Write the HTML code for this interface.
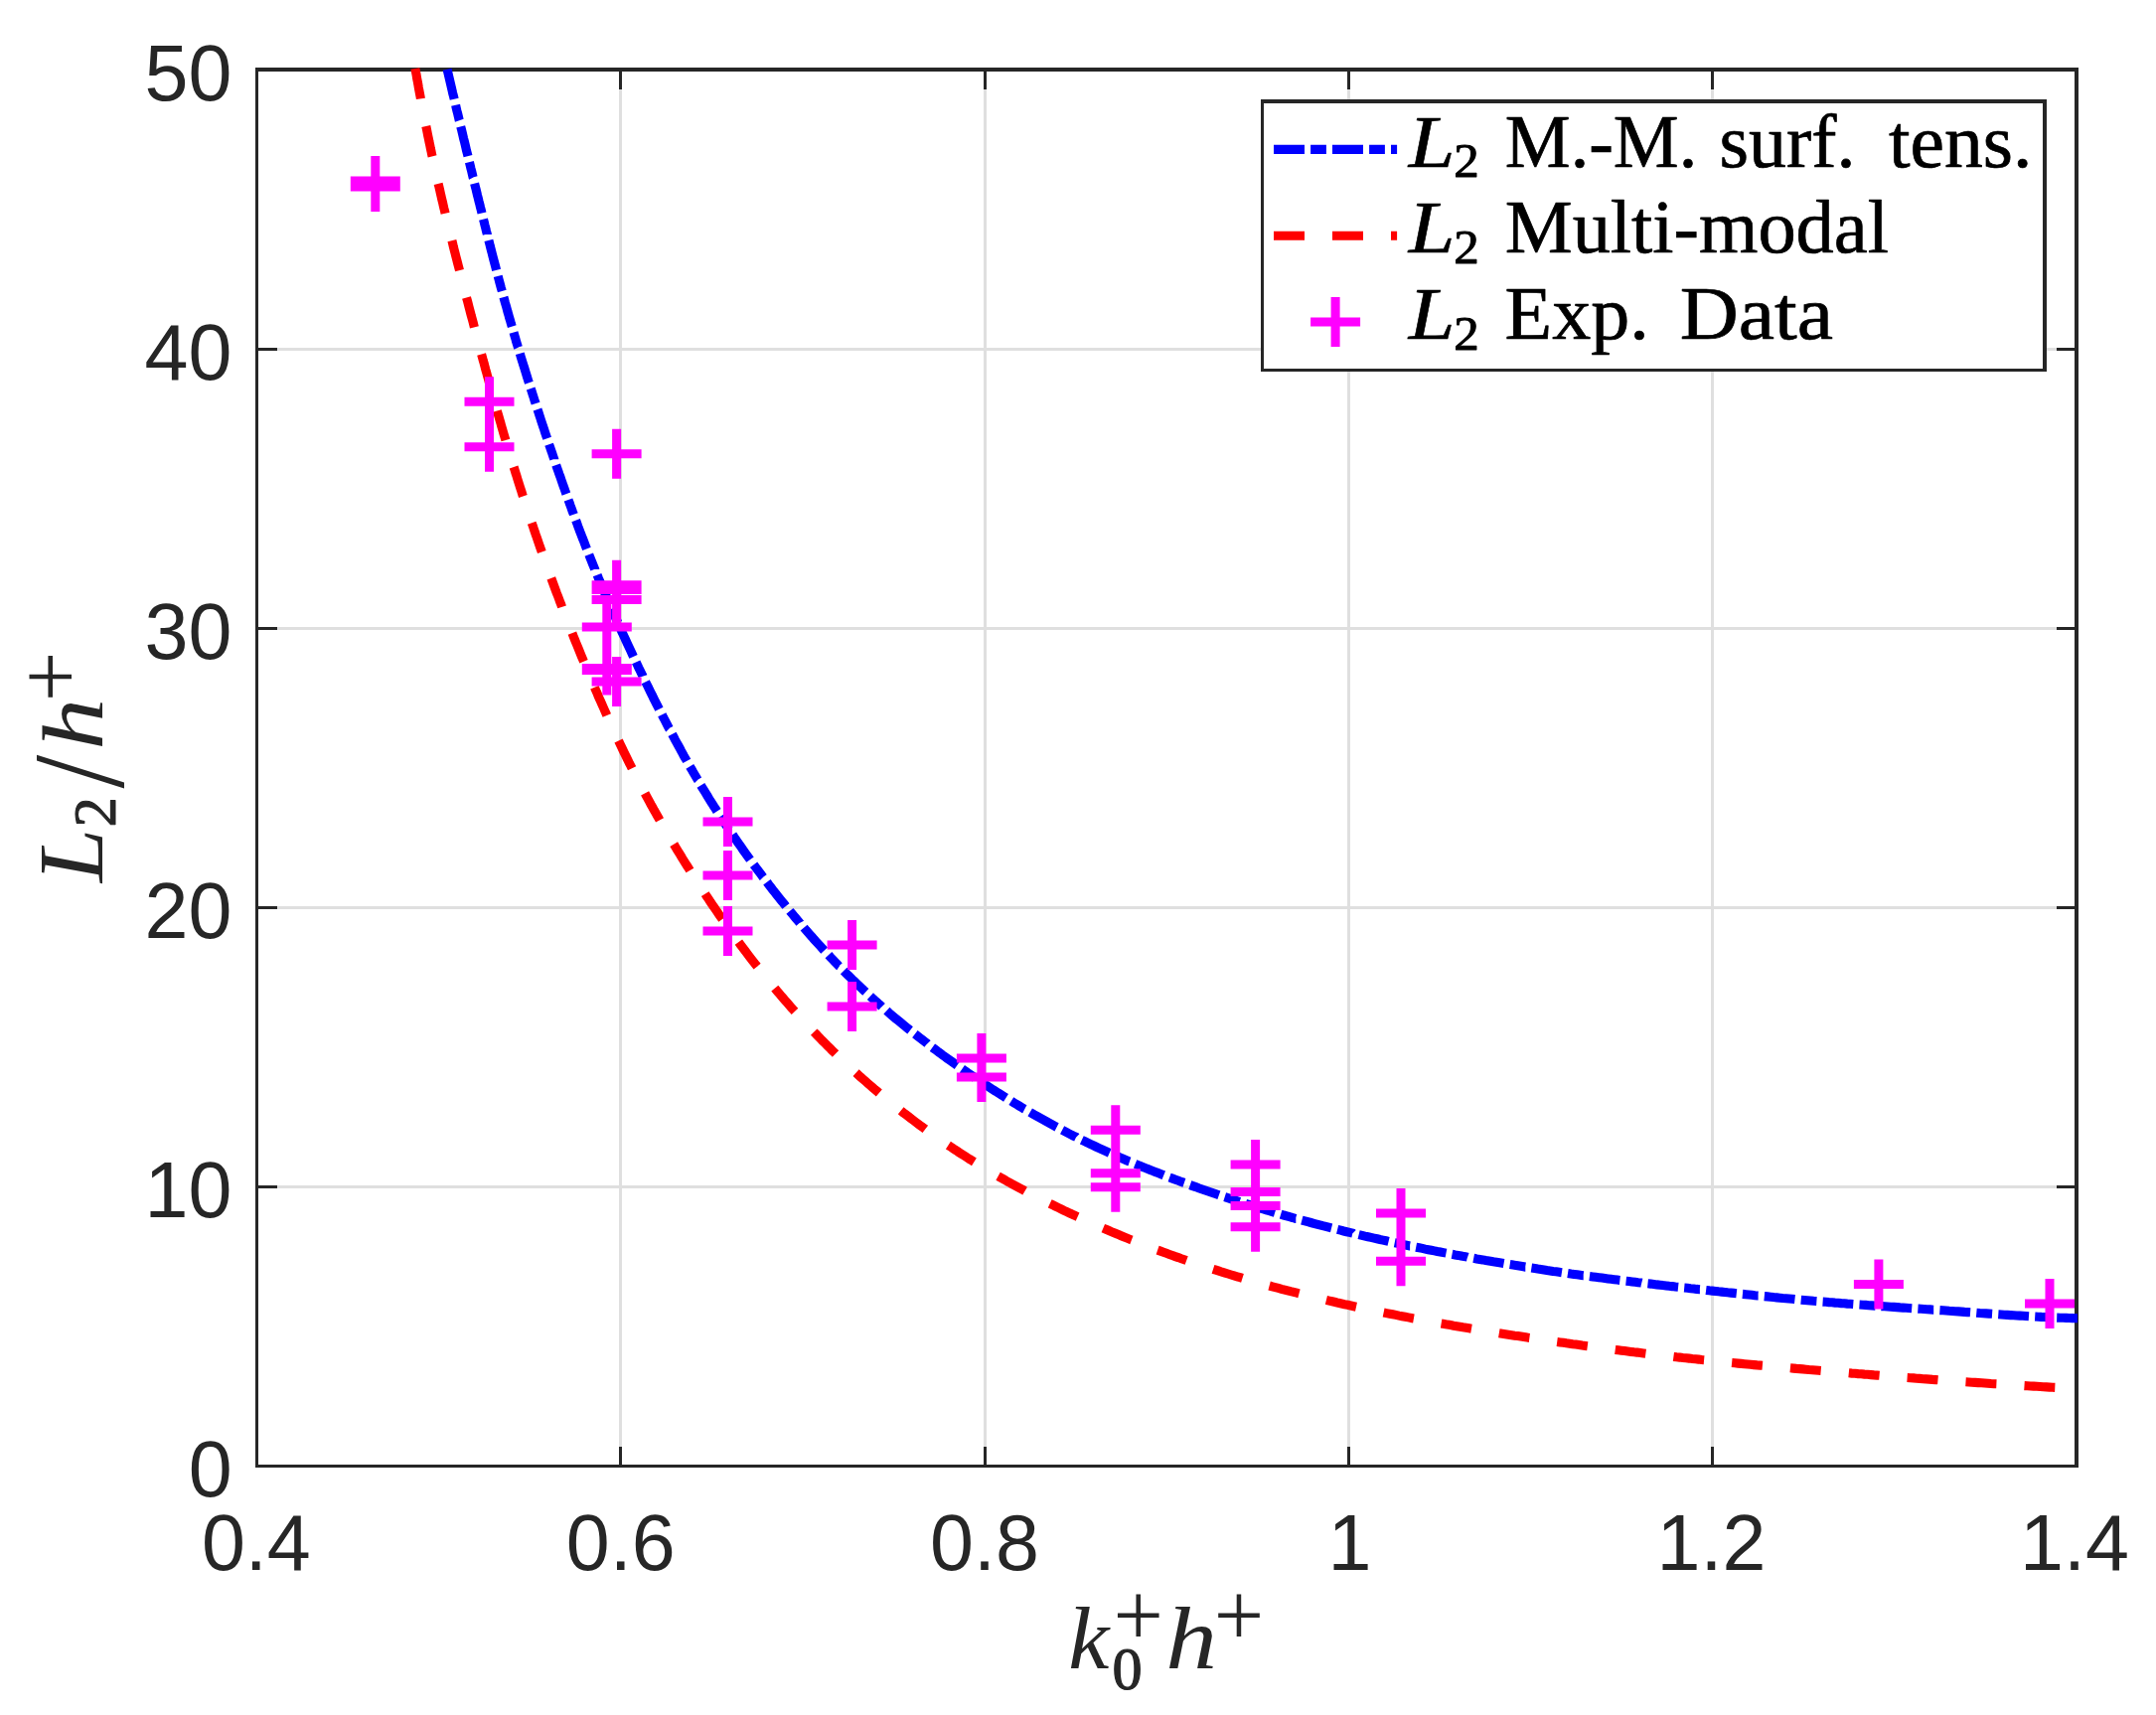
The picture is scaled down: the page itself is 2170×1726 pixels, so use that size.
<!DOCTYPE html>
<html><head><meta charset="utf-8"><title>L2/h+ vs k0+h+</title>
<style>html,body{margin:0;padding:0;background:#fff}svg{display:block}</style></head>
<body>
<svg width="2170" height="1726" viewBox="0 0 2170 1726">
<rect x="0" y="0" width="2170" height="1726" fill="#fff"/>
<defs><clipPath id="ax"><rect x="257" y="68" width="1834" height="1409"/></clipPath></defs>
<g fill="#dfdfdf" shape-rendering="crispEdges">
<rect x="623" y="72" width="3" height="1402"/>
<rect x="990" y="72" width="3" height="1402"/>
<rect x="1356" y="72" width="3" height="1402"/>
<rect x="1722" y="72" width="3" height="1402"/>
<rect x="260" y="1193" width="1828" height="3"/>
<rect x="260" y="912" width="1828" height="3"/>
<rect x="260" y="631" width="1828" height="3"/>
<rect x="260" y="350" width="1828" height="3"/>
</g>
<g fill="#262626" shape-rendering="crispEdges">
<rect x="257" y="68" width="1835" height="4"/>
<rect x="257" y="1474" width="1835" height="3"/>
<rect x="257" y="68" width="3" height="1409"/>
<rect x="2088" y="68" width="4" height="1409"/>
<rect x="623" y="72" width="3" height="18"/>
<rect x="623" y="1456" width="3" height="18"/>
<rect x="990" y="72" width="3" height="18"/>
<rect x="990" y="1456" width="3" height="18"/>
<rect x="1356" y="72" width="3" height="18"/>
<rect x="1356" y="1456" width="3" height="18"/>
<rect x="1722" y="72" width="3" height="18"/>
<rect x="1722" y="1456" width="3" height="18"/>
<rect x="260" y="1193" width="19" height="3"/>
<rect x="2070" y="1193" width="18" height="3"/>
<rect x="260" y="912" width="19" height="3"/>
<rect x="2070" y="912" width="18" height="3"/>
<rect x="260" y="631" width="19" height="3"/>
<rect x="2070" y="631" width="18" height="3"/>
<rect x="260" y="350" width="19" height="3"/>
<rect x="2070" y="350" width="18" height="3"/>
</g>
<path d="M440.7 30.1 L441.5 33.5 L442.2 36.5 L442.9 39.4 L443.6 42.3 M445.0 48.4 L445.7 51.5 L446.4 54.5 L447.2 57.9 L447.9 60.8 L448.6 63.7 L448.6 63.8 M450.1 69.8 L450.8 72.8 L451.5 75.8 L452.2 78.8 L452.9 81.8 L453.6 84.8 L454.3 87.8 L455.0 90.8 L455.7 93.8 L456.5 96.9 L457.2 99.8 M458.6 105.8 L459.3 108.9 L460.0 111.9 L460.8 114.9 L461.5 117.9 L462.2 120.9 L462.3 121.2 M463.7 127.3 L464.5 130.3 L465.2 133.3 L465.9 136.3 L466.6 139.3 L467.4 142.3 L468.1 145.3 L468.8 148.3 L469.5 151.4 L470.3 154.4 L471.0 157.2 M472.4 163.2 L473.2 166.4 L473.9 169.4 L474.7 172.4 L475.4 175.4 L476.1 178.4 L476.2 178.6 M477.6 184.6 L478.4 187.8 L479.2 190.9 L479.9 193.9 L480.6 196.9 L481.4 199.9 L482.1 202.9 L482.9 205.9 L483.6 208.9 L484.4 211.9 L485.0 214.5 M486.5 220.6 L487.3 223.6 L488.0 226.6 L488.8 229.6 L489.5 232.6 L490.3 235.6 L490.3 235.9 M491.9 241.9 L492.7 245.0 L493.4 248.0 L494.2 251.0 L495.0 254.0 L495.7 257.0 L496.5 260.0 L497.3 263.0 L498.1 266.0 L498.9 269.0 L499.6 271.8 M501.2 277.8 L502.0 281.0 L502.8 284.0 L503.6 287.0 L504.4 290.0 L505.3 293.0 L505.3 293.0 M506.9 299.0 L507.7 302.0 L508.5 305.0 L509.4 307.9 L510.2 310.9 L511.0 313.9 L511.9 316.9 L512.7 319.9 L513.6 322.8 L514.4 325.8 L515.3 328.7 M517.0 334.6 L517.9 337.7 L518.8 340.7 L519.6 343.7 L520.5 346.6 L521.4 349.6 L521.5 349.8 M523.3 355.8 L524.2 358.9 L525.1 361.8 L526.0 364.8 L526.9 367.7 L527.9 370.7 L528.8 373.7 L529.7 376.6 L530.6 379.6 L531.5 382.5 L532.4 385.2 M534.2 391.1 L535.2 394.0 L536.1 396.9 L537.1 399.9 L538.0 402.8 L539.0 405.8 L539.1 406.1 M541.0 412.1 L542.0 415.0 L542.9 417.9 L543.9 420.9 L544.8 423.8 L545.8 426.7 L546.8 429.7 L547.8 432.6 L548.7 435.6 L549.7 438.5 L550.7 441.3 M552.6 447.2 L553.7 450.3 L554.7 453.2 L555.7 456.1 L556.7 459.1 L557.7 462.0 L557.7 462.2 M559.7 468.1 L560.8 471.2 L561.8 474.1 L562.8 477.0 L563.9 479.9 L564.9 482.9 L565.9 485.8 L566.9 488.7 L568.0 491.6 L569.0 494.6 L569.9 497.1 M572.0 503.0 L573.1 505.9 L574.1 508.8 L575.2 511.7 L576.2 514.6 L577.3 517.5 L577.4 517.8 M579.6 523.7 L580.7 526.6 L581.7 529.5 L582.8 532.4 L583.9 535.3 L585.0 538.2 L586.1 541.1 L587.3 544.0 L588.4 546.9 L589.5 549.8 L590.5 552.4 M592.8 558.2 L594.0 561.3 L595.2 564.2 L596.3 567.0 L597.5 569.9 L598.7 572.8 L598.7 572.9 M601.1 578.6 L602.3 581.7 L603.5 584.6 L604.7 587.4 L605.9 590.3 L607.1 593.1 L608.3 596.0 L609.6 598.8 L610.8 601.6 L612.0 604.5 L613.1 607.0 M615.6 612.7 L616.8 615.5 L618.1 618.3 L619.3 621.1 L620.6 623.9 L621.8 626.8 L622.0 627.1 M624.6 632.8 L625.8 635.6 L627.1 638.4 L628.4 641.2 L629.7 644.0 L631.0 646.8 L632.3 649.6 L633.6 652.4 L634.9 655.2 L636.2 658.0 L637.5 660.8 M640.2 666.4 L641.5 669.2 L642.8 672.0 L644.2 674.8 L645.5 677.5 L646.9 680.3 L647.0 680.6 M649.7 686.2 L651.1 689.0 L652.5 691.8 L653.8 694.6 L655.2 697.3 L656.6 700.1 L657.9 702.9 L659.3 705.6 L660.7 708.4 L662.1 711.1 L663.4 713.8 M666.3 719.3 L667.7 722.2 L669.2 724.9 L670.6 727.6 L672.0 730.4 L673.4 733.1 L673.6 733.3 M676.5 738.8 L678.0 741.7 L679.4 744.4 L680.9 747.1 L682.4 749.8 L683.9 752.5 L685.3 755.2 L686.8 757.9 L688.3 760.7 L689.9 763.4 L691.3 765.9 M694.3 771.3 L696.0 774.1 L697.5 776.8 L699.1 779.5 L700.6 782.1 L702.2 784.8 L702.3 784.9 M705.4 790.3 L707.1 793.1 L708.7 795.7 L710.4 798.4 L712.0 801.0 L713.6 803.7 L715.2 806.3 L716.9 808.9 L718.5 811.5 L720.2 814.1 L721.7 816.5 M725.0 821.7 L726.7 824.2 L728.4 826.8 L730.1 829.4 L731.8 832.0 L733.6 834.5 L733.8 834.8 M737.3 840.0 L739.0 842.6 L740.8 845.1 L742.5 847.7 L744.3 850.2 L746.1 852.7 L747.9 855.3 L749.7 857.8 L751.5 860.3 L753.3 862.8 L755.0 865.2 M758.6 870.2 L760.6 872.9 L762.4 875.3 L764.3 877.8 L766.2 880.3 L768.0 882.8 L768.1 882.9 M771.9 887.8 L773.9 890.5 L775.8 892.9 L777.7 895.4 L779.6 897.8 L781.6 900.3 L783.5 902.7 L785.4 905.1 L787.4 907.5 L789.3 909.9 L791.0 912.0 M794.9 916.8 L796.9 919.2 L798.9 921.6 L800.9 924.0 L802.9 926.4 L804.9 928.7 L805.0 928.9 M809.1 933.6 L811.2 936.1 L813.3 938.4 L815.3 940.8 L817.4 943.1 L819.4 945.4 L821.5 947.7 L823.6 950.0 L825.7 952.3 L827.8 954.6 L829.6 956.6 M833.9 961.1 L835.9 963.3 L838.1 965.6 L840.2 967.8 L842.4 970.1 L844.5 972.3 L844.8 972.5 M849.2 977.0 L851.3 979.2 L853.5 981.4 L855.7 983.5 L857.9 985.7 L860.2 987.9 L862.4 990.0 L864.6 992.1 L866.9 994.3 L869.1 996.4 L871.3 998.4 M875.9 1002.6 L878.3 1004.8 L880.6 1006.9 L882.9 1008.9 L885.2 1011.0 L887.5 1013.0 L887.6 1013.1 M892.4 1017.2 L894.8 1019.4 L897.2 1021.4 L899.6 1023.4 L901.9 1025.4 L904.3 1027.3 L906.7 1029.3 L909.1 1031.3 L911.5 1033.2 L913.9 1035.2 L916.1 1036.9 M920.9 1040.7 L923.4 1042.6 L925.8 1044.5 L928.3 1046.4 L930.7 1048.3 L933.2 1050.2 L933.4 1050.4 M938.4 1054.2 L940.9 1056.0 L943.4 1057.9 L945.9 1059.7 L948.4 1061.6 L950.9 1063.4 L953.4 1065.2 L956.0 1067.0 L958.5 1068.8 L961.0 1070.6 L963.3 1072.2 M968.4 1075.8 L971.2 1077.7 L973.7 1079.5 L976.3 1081.2 L978.9 1083.0 L981.4 1084.7 L981.4 1084.7 M986.6 1088.2 L989.2 1089.9 L991.7 1091.6 L994.3 1093.3 L996.9 1095.0 L999.5 1096.7 L1002.1 1098.3 L1004.7 1100.0 L1007.4 1101.6 L1010.0 1103.3 L1012.5 1104.9 M1017.8 1108.1 L1020.5 1109.8 L1023.2 1111.4 L1025.8 1113.0 L1028.5 1114.6 L1031.1 1116.2 L1031.3 1116.3 M1036.7 1119.4 L1039.5 1121.0 L1042.2 1122.6 L1044.9 1124.1 L1047.6 1125.6 L1050.3 1127.1 L1053.0 1128.6 L1055.7 1130.1 L1058.4 1131.6 L1061.1 1133.1 L1063.6 1134.4 M1069.1 1137.3 L1072.0 1138.8 L1074.8 1140.3 L1077.6 1141.7 L1080.3 1143.1 L1083.1 1144.4 L1083.2 1144.5 M1088.8 1147.3 L1091.8 1148.7 L1094.6 1150.0 L1097.3 1151.4 L1100.1 1152.7 L1102.9 1154.0 L1105.8 1155.3 L1108.6 1156.6 L1111.4 1157.9 L1114.2 1159.2 L1116.7 1160.3 M1122.4 1162.8 L1125.2 1164.0 L1128.0 1165.3 L1130.9 1166.5 L1133.7 1167.7 L1136.6 1168.9 L1136.9 1169.0 M1142.6 1171.4 L1145.6 1172.6 L1148.4 1173.8 L1151.3 1174.9 L1154.2 1176.1 L1157.1 1177.2 L1160.0 1178.4 L1162.8 1179.5 L1165.7 1180.6 L1168.6 1181.7 L1171.3 1182.8 M1177.1 1185.0 L1180.2 1186.1 L1183.1 1187.2 L1186.1 1188.3 L1189.0 1189.4 L1191.9 1190.4 L1191.9 1190.4 M1197.8 1192.6 L1200.6 1193.6 L1203.6 1194.6 L1206.5 1195.7 L1209.4 1196.7 L1212.3 1197.7 L1215.3 1198.7 L1218.2 1199.7 L1221.1 1200.7 L1224.1 1201.7 L1226.9 1202.7 M1232.7 1204.6 L1235.8 1205.6 L1238.8 1206.6 L1241.7 1207.6 L1244.7 1208.5 L1247.6 1209.5 L1247.8 1209.5 M1253.7 1211.4 L1256.9 1212.4 L1259.8 1213.3 L1262.8 1214.2 L1265.7 1215.2 L1268.7 1216.1 L1271.7 1217.0 L1274.6 1217.9 L1277.6 1218.7 L1280.6 1219.6 L1283.2 1220.4 M1289.1 1222.1 L1292.1 1223.0 L1295.1 1223.8 L1298.1 1224.7 L1301.0 1225.5 L1304.0 1226.4 L1304.3 1226.4 M1310.3 1228.1 L1313.4 1228.9 L1316.4 1229.7 L1319.4 1230.5 L1322.3 1231.3 L1325.3 1232.1 L1328.3 1232.9 L1331.3 1233.7 L1334.3 1234.4 L1337.3 1235.2 L1340.1 1235.9 M1346.1 1237.4 L1349.4 1238.2 L1352.4 1239.0 L1355.4 1239.7 L1358.4 1240.4 L1361.4 1241.1 L1361.5 1241.2 M1367.6 1242.6 L1370.9 1243.4 L1373.9 1244.1 L1376.9 1244.7 L1379.9 1245.4 L1383.0 1246.1 L1386.0 1246.8 L1389.0 1247.5 L1392.0 1248.1 L1395.1 1248.8 L1397.6 1249.4 M1403.7 1250.7 L1406.8 1251.3 L1409.8 1252.0 L1412.9 1252.6 L1415.9 1253.3 L1418.9 1253.9 L1419.1 1253.9 M1425.2 1255.2 L1428.4 1255.8 L1431.5 1256.4 L1434.5 1257.1 L1437.6 1257.7 L1440.6 1258.3 L1443.7 1258.9 L1446.7 1259.5 L1449.7 1260.0 L1452.8 1260.6 L1455.5 1261.1 M1461.5 1262.3 L1464.6 1262.9 L1467.6 1263.4 L1470.7 1264.0 L1473.7 1264.6 L1476.8 1265.1 L1477.1 1265.2 M1483.2 1266.3 L1486.3 1266.9 L1489.4 1267.4 L1492.4 1267.9 L1495.5 1268.5 L1498.5 1269.0 L1501.6 1269.5 L1504.6 1270.1 L1507.7 1270.6 L1510.7 1271.1 L1513.6 1271.6 M1519.7 1272.6 L1523.0 1273.1 L1526.0 1273.6 L1529.1 1274.1 L1532.2 1274.6 L1535.2 1275.1 L1535.3 1275.1 M1541.4 1276.1 L1544.8 1276.6 L1547.8 1277.1 L1550.9 1277.5 L1554.0 1278.0 L1557.0 1278.5 L1560.1 1278.9 L1563.2 1279.4 L1566.2 1279.8 L1569.3 1280.3 L1571.9 1280.7 M1578.0 1281.5 L1581.2 1282.0 L1584.3 1282.4 L1587.3 1282.8 L1590.4 1283.2 L1593.5 1283.7 L1593.7 1283.7 M1599.9 1284.5 L1603.1 1284.9 L1606.1 1285.3 L1609.2 1285.7 L1612.3 1286.1 L1615.4 1286.5 L1618.4 1286.9 L1621.5 1287.3 L1624.6 1287.7 L1627.7 1288.1 L1630.4 1288.4 M1636.6 1289.2 L1639.6 1289.5 L1642.7 1289.9 L1645.8 1290.3 L1648.8 1290.7 L1651.9 1291.0 L1652.3 1291.1 M1658.5 1291.8 L1661.5 1292.1 L1664.6 1292.5 L1667.7 1292.9 L1670.8 1293.2 L1673.8 1293.6 L1676.9 1293.9 L1680.0 1294.3 L1683.1 1294.6 L1686.2 1295.0 L1689.1 1295.3 M1695.2 1296.0 L1698.5 1296.3 L1701.6 1296.7 L1704.7 1297.0 L1707.7 1297.4 L1710.8 1297.7 L1710.9 1297.7 M1717.1 1298.4 L1720.4 1298.8 L1723.5 1299.1 L1726.6 1299.4 L1729.7 1299.8 L1732.8 1300.1 L1735.9 1300.4 L1738.9 1300.8 L1742.0 1301.1 L1745.1 1301.4 L1747.8 1301.7 M1753.9 1302.4 L1757.1 1302.7 L1760.1 1303.0 L1763.2 1303.3 L1766.3 1303.7 L1769.4 1304.0 L1769.6 1304.0 M1775.8 1304.6 L1779.0 1304.9 L1782.1 1305.2 L1785.2 1305.6 L1788.3 1305.9 L1791.4 1306.2 L1794.4 1306.5 L1797.5 1306.7 L1800.6 1307.0 L1803.7 1307.3 L1806.5 1307.6 M1812.7 1308.2 L1816.1 1308.5 L1819.1 1308.7 L1822.2 1309.0 L1825.3 1309.3 L1828.4 1309.5 L1828.4 1309.5 M1834.6 1310.1 L1837.7 1310.3 L1840.8 1310.6 L1843.9 1310.8 L1846.9 1311.1 L1850.0 1311.3 L1853.1 1311.6 L1856.2 1311.8 L1859.3 1312.1 L1862.4 1312.3 L1865.3 1312.5 M1871.5 1313.0 L1874.8 1313.2 L1877.9 1313.4 L1880.9 1313.7 L1884.0 1313.9 L1887.1 1314.1 L1887.3 1314.1 M1893.5 1314.6 L1896.8 1314.8 L1899.9 1315.0 L1903.0 1315.2 L1906.1 1315.4 L1909.2 1315.6 L1912.3 1315.9 L1915.4 1316.1 L1918.5 1316.3 L1921.5 1316.5 L1924.2 1316.7 M1930.4 1317.1 L1933.5 1317.3 L1936.6 1317.5 L1939.7 1317.7 L1942.8 1317.9 L1945.9 1318.2 L1946.2 1318.2 M1952.4 1318.6 L1955.6 1318.8 L1958.7 1319.0 L1961.8 1319.3 L1964.9 1319.5 L1967.9 1319.7 L1971.0 1319.9 L1974.1 1320.1 L1977.2 1320.4 L1980.3 1320.6 L1983.1 1320.8 M1989.3 1321.2 L1992.7 1321.5 L1995.8 1321.7 L1998.9 1321.9 L2002.0 1322.1 L2005.1 1322.3 L2005.1 1322.3 M2011.3 1322.8 L2014.3 1323.0 L2017.4 1323.2 L2020.5 1323.4 L2023.6 1323.6 L2026.7 1323.8 L2029.8 1324.0 L2032.9 1324.1 L2036.0 1324.3 L2039.1 1324.5 L2042.0 1324.7 M2048.2 1325.0 L2051.5 1325.2 L2054.6 1325.4 L2057.7 1325.5 L2060.8 1325.6 L2063.8 1325.8 L2064.0 1325.8 M2070.2 1326.1 L2073.5 1326.2 L2076.6 1326.3 L2079.7 1326.4 L2082.8 1326.5 L2085.9 1326.6 L2089.0 1326.7 L2092.2 1326.8 L2095.2 1326.8 L2098.2 1326.9 L2101.0 1327.0 M2107.2 1327.2 L2110.7 1327.2 L2113.7 1327.3 L2116.7 1327.4 L2119.7 1327.5 L2122.7 1327.6 L2123.0 1327.6 M2129.3 1327.7 L2130.2 1327.7" fill="none" stroke="#0000ff" stroke-width="9.1" clip-path="url(#ax)"/>
<path d="M411.1 30.1 L411.7 33.6 L412.3 36.5 L412.8 39.5 L413.1 41.2 M417.9 69.0 L418.5 72.3 L419.1 75.4 L419.6 78.6 L420.2 81.7 L420.8 84.8 L421.3 88.0 L421.9 91.1 L422.5 94.3 L423.1 97.4 L423.4 99.4 M428.8 127.0 L429.5 130.3 L430.1 133.4 L430.7 136.5 L431.4 139.7 L432.0 142.8 L432.7 145.9 L433.3 149.0 L434.0 152.2 L434.6 155.3 L435.1 157.3 M441.1 184.8 L441.9 188.0 L442.6 191.1 L443.3 194.2 L444.0 197.3 L444.7 200.4 L445.5 203.6 L446.2 206.7 L446.9 209.8 L447.7 212.9 L448.1 214.8 M454.9 242.2 L455.7 245.4 L456.4 248.5 L457.2 251.6 L458.0 254.7 L458.8 257.8 L459.6 260.9 L460.4 264.0 L461.2 267.1 L462.0 270.2 L462.5 272.1 M469.5 299.4 L470.4 302.6 L471.2 305.7 L472.0 308.8 L472.8 311.9 L473.6 315.0 L474.4 318.1 L475.3 321.1 L476.1 324.2 L476.9 327.3 L477.4 329.3 M484.6 356.5 L485.5 359.7 L486.3 362.8 L487.2 365.8 L488.0 368.9 L488.8 372.0 L489.7 375.1 L490.5 378.1 L491.4 381.2 L492.2 384.3 L492.7 386.3 M500.3 413.4 L501.2 416.5 L502.1 419.6 L503.0 422.7 L503.9 425.7 L504.7 428.8 L505.6 431.8 L506.5 434.9 L507.4 438.0 L508.3 441.0 L508.9 443.1 M517.1 470.0 L518.1 473.1 L519.0 476.1 L520.0 479.2 L520.9 482.2 L521.9 485.3 L522.8 488.3 L523.8 491.4 L524.8 494.4 L525.7 497.4 L526.4 499.5 M535.2 526.2 L536.3 529.2 L537.3 532.3 L538.3 535.3 L539.3 538.3 L540.4 541.3 L541.4 544.3 L542.5 547.4 L543.5 550.4 L544.6 553.4 L545.3 555.4 M554.8 581.9 L555.9 584.9 L557.0 587.9 L558.1 590.9 L559.2 593.9 L560.3 596.9 L561.5 599.8 L562.6 602.8 L563.7 605.8 L564.9 608.8 L565.6 610.9 M575.9 637.1 L577.0 640.0 L578.2 643.0 L579.4 645.9 L580.6 648.9 L581.8 651.8 L583.0 654.8 L584.2 657.7 L585.4 660.7 L586.6 663.6 L587.5 665.7 M598.4 691.7 L599.6 694.5 L600.9 697.4 L602.1 700.4 L603.4 703.3 L604.7 706.2 L606.0 709.1 L607.3 712.0 L608.6 715.0 L609.9 717.9 L610.8 720.0 M622.6 745.5 L623.9 748.3 L625.3 751.2 L626.6 754.0 L628.0 756.9 L629.4 759.8 L630.8 762.6 L632.2 765.5 L633.6 768.4 L635.1 771.2 L636.1 773.3 M649.1 798.3 L650.7 801.3 L652.2 804.1 L653.7 806.9 L655.2 809.7 L656.8 812.5 L658.3 815.3 L659.9 818.1 L661.4 820.8 L663.0 823.6 L664.0 825.4 M678.2 849.7 L679.9 852.5 L681.6 855.3 L683.2 858.0 L684.9 860.7 L686.5 863.4 L688.2 866.1 L689.9 868.8 L691.6 871.5 L693.3 874.2 L694.4 876.0 M709.7 899.6 L711.5 902.4 L713.3 905.0 L715.0 907.7 L716.8 910.3 L718.6 912.9 L720.4 915.6 L722.2 918.2 L724.0 920.8 L725.8 923.5 L727.0 925.2 M743.4 948.1 L745.3 950.7 L747.2 953.2 L749.1 955.8 L751.0 958.3 L753.0 960.9 L754.9 963.4 L756.8 965.9 L758.8 968.5 L760.7 971.0 L762.1 972.7 M779.8 994.6 L781.8 997.0 L783.9 999.4 L785.9 1001.8 L788.0 1004.3 L790.1 1006.7 L792.2 1009.1 L794.3 1011.5 L796.4 1013.9 L798.5 1016.3 L800.0 1017.9 M819.2 1038.6 L821.4 1040.8 L823.6 1043.1 L825.8 1045.4 L828.1 1047.7 L830.3 1049.9 L832.6 1052.2 L834.9 1054.4 L837.1 1056.7 L839.4 1058.9 L841.0 1060.5 M861.6 1079.7 L863.9 1081.8 L866.3 1084.0 L868.7 1086.1 L871.1 1088.2 L873.5 1090.3 L875.9 1092.4 L878.3 1094.5 L880.7 1096.6 L883.2 1098.6 L884.8 1100.0 M906.7 1117.8 L909.2 1119.8 L911.7 1121.7 L914.3 1123.7 L916.8 1125.6 L919.3 1127.5 L921.9 1129.5 L924.4 1131.4 L927.0 1133.3 L929.6 1135.1 L931.3 1136.4 M954.4 1152.6 L957.0 1154.3 L959.7 1156.1 L962.4 1157.8 L965.0 1159.6 L967.7 1161.3 L970.4 1163.0 L973.1 1164.8 L975.8 1166.5 L978.5 1168.1 L980.4 1169.3 M1004.6 1183.7 L1007.3 1185.2 L1010.1 1186.8 L1012.8 1188.4 L1015.6 1189.9 L1018.4 1191.5 L1021.2 1193.0 L1024.0 1194.5 L1026.8 1196.0 L1029.7 1197.5 L1031.6 1198.6 M1056.7 1211.4 L1059.5 1212.7 L1062.4 1214.1 L1065.3 1215.5 L1068.1 1216.9 L1071.0 1218.3 L1073.9 1219.6 L1076.8 1221.0 L1079.7 1222.3 L1082.6 1223.7 L1084.6 1224.6 M1110.3 1236.1 L1113.2 1237.3 L1116.1 1238.5 L1119.1 1239.8 L1122.0 1241.0 L1125.0 1242.2 L1127.9 1243.5 L1130.9 1244.7 L1133.8 1245.9 L1136.8 1247.1 L1138.9 1247.9 M1165.1 1258.1 L1168.0 1259.1 L1171.0 1260.2 L1174.0 1261.3 L1177.0 1262.4 L1180.0 1263.5 L1183.0 1264.6 L1186.0 1265.6 L1189.0 1266.7 L1192.0 1267.7 L1194.2 1268.5 M1221.0 1277.3 L1223.8 1278.2 L1226.9 1279.2 L1229.9 1280.2 L1233.0 1281.1 L1236.0 1282.0 L1239.1 1283.0 L1242.1 1283.9 L1245.2 1284.8 L1248.3 1285.7 L1250.5 1286.4 M1277.6 1294.0 L1280.5 1294.8 L1283.6 1295.6 L1286.7 1296.4 L1289.8 1297.3 L1292.9 1298.1 L1295.9 1298.9 L1299.0 1299.7 L1302.1 1300.4 L1305.2 1301.2 L1307.5 1301.8 M1334.9 1308.4 L1337.8 1309.1 L1340.9 1309.8 L1344.0 1310.5 L1347.1 1311.3 L1350.2 1312.0 L1353.4 1312.7 L1356.5 1313.3 L1359.6 1314.0 L1362.7 1314.7 L1365.0 1315.2 M1392.6 1321.0 L1395.5 1321.6 L1398.7 1322.2 L1401.8 1322.8 L1404.9 1323.4 L1408.1 1324.1 L1411.2 1324.7 L1414.3 1325.3 L1417.5 1325.9 L1420.6 1326.5 L1422.9 1326.9 M1450.6 1332.0 L1453.6 1332.5 L1456.7 1333.1 L1459.9 1333.6 L1463.0 1334.2 L1466.1 1334.7 L1469.3 1335.2 L1472.4 1335.8 L1475.6 1336.3 L1478.7 1336.8 L1481.0 1337.2 M1508.8 1341.7 L1511.8 1342.2 L1515.0 1342.7 L1518.1 1343.2 L1521.3 1343.7 L1524.4 1344.2 L1527.6 1344.6 L1530.7 1345.1 L1533.9 1345.6 L1537.1 1346.1 L1539.4 1346.4 M1567.2 1350.5 L1570.2 1350.9 L1573.4 1351.3 L1576.6 1351.8 L1579.7 1352.2 L1582.9 1352.7 L1586.0 1353.1 L1589.2 1353.5 L1592.4 1354.0 L1595.5 1354.4 L1597.8 1354.7 M1625.7 1358.4 L1628.8 1358.8 L1631.9 1359.2 L1635.1 1359.6 L1638.3 1360.0 L1641.4 1360.4 L1644.6 1360.8 L1647.8 1361.1 L1650.9 1361.5 L1654.1 1361.9 L1656.4 1362.2 M1684.4 1365.4 L1687.4 1365.8 L1690.6 1366.1 L1693.8 1366.5 L1696.9 1366.8 L1700.1 1367.1 L1703.3 1367.5 L1706.5 1367.8 L1709.6 1368.1 L1712.8 1368.5 L1715.1 1368.7 M1743.1 1371.5 L1746.2 1371.8 L1749.3 1372.1 L1752.5 1372.4 L1755.7 1372.7 L1758.9 1373.0 L1762.0 1373.3 L1765.2 1373.6 L1768.4 1373.9 L1771.6 1374.1 L1773.9 1374.3 M1801.9 1376.8 L1805.0 1377.1 L1808.1 1377.4 L1811.3 1377.6 L1814.5 1377.9 L1817.7 1378.2 L1820.9 1378.5 L1824.0 1378.7 L1827.2 1379.0 L1830.4 1379.3 L1832.7 1379.5 M1860.8 1381.8 L1863.8 1382.1 L1867.0 1382.3 L1870.2 1382.6 L1873.4 1382.8 L1876.5 1383.1 L1879.7 1383.3 L1882.9 1383.6 L1886.1 1383.9 L1889.3 1384.1 L1891.6 1384.3 M1919.6 1386.5 L1922.7 1386.7 L1925.9 1386.9 L1929.1 1387.2 L1932.2 1387.4 L1935.4 1387.7 L1938.6 1387.9 L1941.8 1388.1 L1945.0 1388.4 L1948.2 1388.6 L1950.5 1388.8 M1978.5 1390.8 L1981.6 1391.0 L1984.8 1391.2 L1988.0 1391.4 L1991.1 1391.6 L1994.3 1391.8 L1997.5 1392.0 L2000.7 1392.2 L2003.9 1392.5 L2007.1 1392.7 L2009.4 1392.8 M2037.5 1394.6 L2040.5 1394.8 L2043.7 1395.0 L2046.9 1395.1 L2050.1 1395.3 L2053.3 1395.5 L2056.5 1395.7 L2059.6 1395.9 L2062.8 1396.1 L2066.0 1396.3 L2068.3 1396.4" fill="none" stroke="#ff0000" stroke-width="9.1" clip-path="url(#ax)"/>
<path d="M352.8 181.9H402.8M377.8 156.9V206.9M352.8 188.0H402.8M377.8 163.0V213.0M467.5 404.2H517.5M492.5 379.2V429.2M467.5 449.8H517.5M492.5 424.8V474.8M595.6 456.7H645.6M620.6 431.7V481.7M595.6 588.8H645.6M620.6 563.8V613.8M595.6 593.6H645.6M620.6 568.6V618.6M595.6 603.5H645.6M620.6 578.5V628.5M585.8 630.9H635.8M610.8 605.9V655.9M585.8 672.6H635.8M610.8 647.6V697.6M585.8 674.6H635.8M610.8 649.6V699.6M595.6 686.0H645.6M620.6 661.0V711.0M707.5 827.0H757.5M732.5 802.0V852.0M707.5 881.0H757.5M732.5 856.0V906.0M707.5 937.1H757.5M732.5 912.1V962.1M832.6 951.0H882.6M857.6 926.0V976.0M832.6 1013.0H882.6M857.6 988.0V1038.0M962.9 1065.0H1012.9M987.9 1040.0V1090.0M962.9 1084.0H1012.9M987.9 1059.0V1109.0M1097.8 1137.2H1147.8M1122.8 1112.2V1162.2M1097.8 1180.7H1147.8M1122.8 1155.7V1205.7M1097.8 1194.7H1147.8M1122.8 1169.7V1219.7M1238.6 1172.0H1288.6M1263.6 1147.0V1197.0M1238.6 1199.6H1288.6M1263.6 1174.6V1224.6M1238.6 1213.6H1288.6M1263.6 1188.6V1238.6M1238.6 1234.7H1288.6M1263.6 1209.7V1259.7M1385.0 1220.9H1435.0M1410.0 1195.9V1245.9M1385.0 1269.3H1435.0M1410.0 1244.3V1294.3M1865.9 1292.4H1915.9M1890.9 1267.4V1317.4M2038.0 1312.1H2088.0M2063.0 1287.1V1337.1" fill="none" stroke="#ff00ff" stroke-width="9.0" clip-path="url(#ax)"/>
<g font-family="'Liberation Sans', sans-serif" font-size="79" fill="#262626">
<text x="202.9" y="1580.4">0.4</text>
<text x="569.8" y="1580.4">0.6</text>
<text x="936.1" y="1580.4">0.8</text>
<text x="1336.5" y="1580.4">1</text>
<text x="1667.5" y="1580.4">1.2</text>
<text x="2033.0" y="1580.4">1.4</text>
<text x="189.7" y="1506.1">0</text>
<text x="145.5" y="1225.0">10</text>
<text x="145.5" y="943.9">20</text>
<text x="145.5" y="662.8">30</text>
<text x="145.5" y="381.7">40</text>
<text x="145.5" y="100.6">50</text>
</g>
<text transform="translate(1075.22,1678.60) scale(0.9256,0.8913)" font-family="'Liberation Serif', serif" font-style="italic" font-size="100" fill="#262626">k</text>
<text transform="translate(1119.59,1699.78) scale(0.6024,0.6178)" font-family="'Liberation Serif', serif" font-size="100" fill="#262626" stroke="#262626" stroke-width="1.97" stroke-linejoin="round">0</text>
<text transform="translate(1120.53,1655.74) scale(0.8946,0.9043)" font-family="'Liberation Serif', serif" font-size="100" fill="#262626">+</text>
<text transform="translate(1173.28,1679.05) scale(1.0353,0.8978)" font-family="'Liberation Serif', serif" font-style="italic" font-size="100" fill="#262626">h</text>
<text transform="translate(1221.83,1655.74) scale(0.8946,0.9043)" font-family="'Liberation Serif', serif" font-size="100" fill="#262626">+</text>
<text transform="translate(102.9,889.0) rotate(-90) translate(0.97,0.00) scale(0.9731,0.9246)" font-family="'Liberation Serif', serif" font-style="italic" font-size="100" fill="#262626">L</text>
<text transform="translate(102.9,889.0) rotate(-90) translate(56.57,12.80) scale(0.6075,0.6197)" font-family="'Liberation Serif', serif" font-size="100" fill="#262626" stroke="#262626" stroke-width="1.63" stroke-linejoin="round">2</text>
<text transform="translate(102.9,889.0) rotate(-90) translate(95.50,20.69) scale(1.2182,1.3083)" font-family="'Liberation Serif', serif" font-size="100" fill="#262626">/</text>
<text transform="translate(102.9,889.0) rotate(-90) translate(134.37,0.44) scale(1.0376,0.8774)" font-family="'Liberation Serif', serif" font-style="italic" font-size="100" fill="#262626">h</text>
<text transform="translate(102.9,889.0) rotate(-90) translate(182.81,-22.06) scale(0.8989,0.9043)" font-family="'Liberation Serif', serif" font-size="100" fill="#262626">+</text>
<rect x="1269" y="100" width="791" height="274" fill="#fff"/>
<g fill="#262626" shape-rendering="crispEdges">
<rect x="1269" y="100" width="791" height="4"/>
<rect x="1269" y="371" width="791" height="3"/>
<rect x="1269" y="100" width="3" height="274"/>
<rect x="2056" y="100" width="4" height="274"/>
</g>
<path d="M1282.0 150.4h31 m6.1 0h15.8 m6.1 0h31 m6.1 0h15.8 m6.1 0h6.1" fill="none" stroke="#0000ff" stroke-width="9.1"/>
<path d="M1282.0 237.3h31 m28 0h31 m28 0h6.1" fill="none" stroke="#ff0000" stroke-width="9.1"/>
<path d="M1319.1 324.1h50M1344.1 299.1v50" fill="none" stroke="#ff00ff" stroke-width="9.0"/>
<text transform="translate(1417.84,167.50) scale(0.8404,0.7477)" font-family="'Liberation Serif', serif" font-style="italic" font-size="100" fill="#000" stroke="#000" stroke-width="0.76" stroke-linejoin="round">L</text>
<text transform="translate(1463.30,178.30) scale(0.5100,0.4955)" font-family="'Liberation Serif', serif" font-size="100" fill="#000" stroke="#000" stroke-width="1.99" stroke-linejoin="round">2</text>
<text transform="translate(1417.84,254.00) scale(0.8404,0.7477)" font-family="'Liberation Serif', serif" font-style="italic" font-size="100" fill="#000" stroke="#000" stroke-width="0.76" stroke-linejoin="round">L</text>
<text transform="translate(1463.30,264.80) scale(0.5100,0.4955)" font-family="'Liberation Serif', serif" font-size="100" fill="#000" stroke="#000" stroke-width="1.99" stroke-linejoin="round">2</text>
<text transform="translate(1417.84,341.00) scale(0.8404,0.7477)" font-family="'Liberation Serif', serif" font-style="italic" font-size="100" fill="#000" stroke="#000" stroke-width="0.76" stroke-linejoin="round">L</text>
<text transform="translate(1463.30,351.80) scale(0.5100,0.4955)" font-family="'Liberation Serif', serif" font-size="100" fill="#000" stroke="#000" stroke-width="1.99" stroke-linejoin="round">2</text>
<text transform="translate(1514.83,167.80) scale(0.7404,0.7538)" font-family="'Liberation Serif', serif" font-size="100" fill="#000" stroke="#000" stroke-width="0.94" stroke-linejoin="round">M.-M.</text>
<text transform="translate(1730.52,167.80) scale(0.7582,0.7538)" font-family="'Liberation Serif', serif" font-size="100" fill="#000" stroke="#000" stroke-width="0.93" stroke-linejoin="round">surf.</text>
<text transform="translate(1900.97,167.80) scale(0.7765,0.7538)" font-family="'Liberation Serif', serif" font-size="100" fill="#000" stroke="#000" stroke-width="0.91" stroke-linejoin="round">tens.</text>
<text transform="translate(1514.76,254.30) scale(0.7640,0.7538)" font-family="'Liberation Serif', serif" font-size="100" fill="#000" stroke="#000" stroke-width="0.92" stroke-linejoin="round">Multi-modal</text>
<text transform="translate(1514.51,341.30) scale(0.7802,0.7538)" font-family="'Liberation Serif', serif" font-size="100" fill="#000" stroke="#000" stroke-width="0.91" stroke-linejoin="round">Exp.</text>
<text transform="translate(1690.70,341.30) scale(0.8173,0.7538)" font-family="'Liberation Serif', serif" font-size="100" fill="#000" stroke="#000" stroke-width="0.89" stroke-linejoin="round">Data</text>
</svg>
</body></html>
